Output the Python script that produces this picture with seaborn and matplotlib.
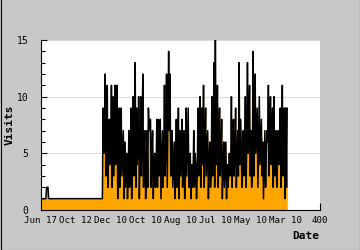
import numpy as np
import pandas as pd
import matplotlib
matplotlib.use("Agg")
import matplotlib.pyplot as plt
from matplotlib.lines import Line2D
from matplotlib.ticker import MultipleLocator
import seaborn as sns

# ---- data ----
early_visits = [1, 1, 1, 1, 1, 1, 1, 1, 2, 2, 2] + [1] * 78
late_visits = [
    9, 5, 7, 12, 3, 8, 11, 2, 6, 8, 4, 6, 11, 2, 10, 3, 5, 11, 4, 7,
    11, 1, 4, 9, 2, 6, 9, 3, 5, 7, 1, 6, 2, 4, 5, 1, 3, 7, 2, 4,
    9, 1, 5, 10, 3, 6, 13, 2, 9, 4, 6, 10, 1, 5, 10, 3, 7, 12, 2, 6,
    7, 1, 3, 7, 2, 9, 7, 8, 8, 2, 5, 7, 1, 4, 5, 2, 3, 8, 2, 8,
    3, 5, 8, 1, 4, 7, 2, 5, 11, 3, 6, 12, 2, 8, 14, 7, 12, 3, 6, 7,
    2, 4, 6, 1, 3, 8, 2, 5, 9, 1, 7, 3, 5, 8, 2, 4, 7, 1, 3, 9,
    3, 6, 9, 2, 4, 5, 1, 4, 2, 3, 7, 2, 5, 4, 1, 3, 9, 3, 6, 10,
    2, 5, 9, 4, 11, 2, 6, 9, 3, 5, 7, 1, 4, 6, 2, 3, 10, 3, 6, 13,
    2, 15, 4, 8, 11, 2, 6, 9, 3, 5, 8, 1, 4, 6, 2, 4, 6, 1, 4, 2,
    3, 5, 3, 4, 10, 2, 6, 8, 3, 5, 9, 2, 4, 7, 3, 13, 4, 8, 6, 2,
    4, 7, 3, 5, 10, 2, 6, 13, 5, 7, 11, 3, 7, 2, 4, 14, 3, 8, 12, 5,
    7, 9, 2, 6, 10, 4, 6, 8, 3, 6, 1, 4, 7, 2, 5, 7, 6, 11, 3, 6,
    10, 4, 7, 9, 2, 10, 3, 6, 7, 2, 4, 7, 4, 5, 9, 2, 6, 11, 3, 7,
    9, 1, 9, 2, 9,
]
visits = early_visits + late_visits
days = list(range(len(visits)))

tick_positions = [0, 50, 100, 150, 200, 250, 300, 350, 400]
tick_labels = ["Jun 17", "Oct 12", "Dec 10", "Oct 10", "Aug 10",
               "Jul 10", "May 10", "Mar 10", "400"]
y_ticks = [0, 5, 10, 15]

df = pd.DataFrame({"day": days, "visits": visits})

# ---- style ----
sns.set_theme(style="white")
plt.rcParams["font.family"] = ["DejaVu Sans Mono", "DejaVu Sans"]
bg = "#c8c8c8"
orange = "#ffa500"

fig = plt.figure(figsize=(3.6, 2.5), dpi=100, facecolor=bg)
ax = fig.add_axes([41 / 360, 1 - 210 / 250, 279 / 360, 170 / 250])
ax.set_facecolor("white")

ax.fill_between(df["day"], 0, df["visits"], color=orange, linewidth=0, zorder=2)
sns.lineplot(data=df, x="day", y="visits", color="black", linewidth=1.1,
             ax=ax, zorder=3)

ax.set_xlim(0, 400)
ax.set_ylim(0, 15)
ax.set_xticks(tick_positions)
ax.set_xticklabels(tick_labels)
ax.set_yticks(y_ticks)
ax.yaxis.set_minor_locator(MultipleLocator(1))

ax.grid(axis="y", which="major", color="#dcdcdc", linewidth=0.8, zorder=1)
ax.grid(axis="x", visible=False)
ax.set_axisbelow(True)

for s in ["top", "right"]:
    ax.spines[s].set_visible(False)
for s in ["left", "bottom"]:
    ax.spines[s].set_color("black")
    ax.spines[s].set_linewidth(0.8)
    ax.spines[s].set_zorder(5)

ax.tick_params(axis="x", which="major", direction="in", length=5, width=0.8,
               color="black", pad=4, labelsize=6.6, labelcolor="black",
               bottom=True)
ax.tick_params(axis="y", which="major", direction="in", length=4, width=0.8,
               color="black", pad=9, labelsize=7, labelcolor="black", left=True)
ax.tick_params(axis="y", which="minor", direction="in", length=3, width=0.8,
               color="black", left=True)
ax.tick_params(axis="x", which="minor", bottom=False)

ax.set_xlabel("")
ax.set_ylabel("")
fig.text(319 / 360, 1 - 236 / 250, "Date", ha="right", va="center",
         fontsize=8, fontweight="bold", color="black")
fig.text(10 / 360, 1 - 125 / 250, "Visits", ha="center", va="center",
         rotation=90, fontsize=8, fontweight="bold", color="black")

# figure border (left, right, bottom)
for xs, ys in [([0.5 / 360, 0.5 / 360], [0, 1]),
               ([359.5 / 360, 359.5 / 360], [0, 1]),
               ([0, 1], [0.5 / 250, 0.5 / 250])]:
    fig.add_artist(Line2D(xs, ys, transform=fig.transFigure, color="black",
                          linewidth=0.8))

fig.savefig("out.png", dpi=100, facecolor=bg)
